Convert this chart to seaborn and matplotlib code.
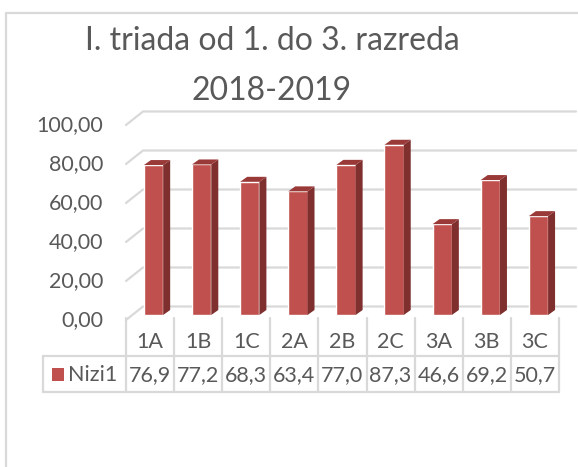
import pandas as pd
import matplotlib.pyplot as plt
import seaborn as sns
from matplotlib.patches import Polygon, Rectangle
from matplotlib.transforms import blended_transform_factory

# Data
classes = ["1A", "1B", "1C", "2A", "2B", "2C", "3A", "3B", "3C"]
values = [76.9, 77.2, 68.3, 63.4, 77.0, 87.3, 46.6, 69.2, 50.7]
series_name = "Nizi1"
title = "I. triada od 1. do 3. razreda\n2018-2019"
yticks = [0, 20, 40, 60, 80, 100]

face = "#C0504D"
side = "#7F2F2E"
top = "#9A3A38"
grid = "#D9D9D9"
txt = "#595959"

sns.set_style("white")
plt.rcParams["font.family"] = ["Lato", "DejaVu Sans"]

W, H = 578, 467
fig = plt.figure(figsize=(W / 100, H / 100), dpi=100)


def fy(px):
    return 1 - px / H


ax = fig.add_axes([126 / W, fy(315), 433 / W, 195 / H])
df = pd.DataFrame({"razred": classes, "nizi": values})
sns.barplot(data=df, x="razred", y="nizi", color=face, width=0.4,
            saturation=1, ax=ax, zorder=3)
ax.set_xlim(-0.5, 8.5)
ax.set_ylim(0, 100)
ax.set_axis_off()

# pixel -> data unit conversions
ux = 433 / 9
uy = 195 / 100
shift = 3.5 / ux
dx, dy = 7 / ux, 5 / uy

# 3d look for bars
for p in ax.patches:
    p.set_x(p.get_x() + shift)
    p.set_clip_on(False)
    x0, w, h = p.get_x(), p.get_width(), p.get_height()
    ax.add_patch(Polygon([(x0 + w, 0), (x0 + w + dx, dy), (x0 + w + dx, h + dy), (x0 + w, h)],
                         closed=True, fc=side, ec="none", zorder=3, clip_on=False))
    ax.add_patch(Polygon([(x0, h), (x0 + w, h), (x0 + w + dx, h + dy), (x0 + dx, h + dy)],
                         closed=True, fc=top, ec="none", zorder=3, clip_on=False))

# back wall gridlines
bx, by, fdown = 17 / ux, 8.5 / uy, 5 / uy
for v in yticks:
    ax.plot([-0.5, -0.5 + bx, 8.5 + bx], [v - fdown, v + by, v + by],
            color=grid, lw=1.6, zorder=0, clip_on=False)
    ax.text(-0.5 - 23 / ux, v - fdown, f"{v:.2f}".replace(".", ","),
            ha="right", va="center", fontsize=15.5, color=txt)

# data table
tr = blended_transform_factory(ax.transData, fig.transFigure)
xl = -0.5 - (126 - 43) / ux
for i in range(len(classes) + 1):
    ax.plot([i - 0.5, i - 0.5], [fy(318), fy(392)], color=grid, lw=1.6,
            transform=tr, clip_on=False)
ax.plot([xl, xl], [fy(356), fy(392)], color=grid, lw=1.6, transform=tr, clip_on=False)
for yy in [356, 392]:
    ax.plot([xl, 8.5], [fy(yy), fy(yy)], color=grid, lw=1.6, transform=tr, clip_on=False)
for i, (c, v) in enumerate(zip(classes, values)):
    ax.text(i, fy(342), c, transform=tr, ha="center", va="center", fontsize=15.5, color=txt)
    ax.text(i, fy(375), f"{v:.1f}".replace(".", ","), transform=tr,
            ha="center", va="center", fontsize=15.5, color=txt)
fig.patches.append(Rectangle((52 / W, fy(381)), 12 / W, 13 / H, transform=fig.transFigure,
                             fc=face, ec="none"))
fig.text(68 / W, fy(375), series_name, ha="left", va="center", fontsize=15.5, color=txt)

# title
fig.text(272 / W, fy(66), title, ha="center", va="center", fontsize=23,
         color=txt, linespacing=1.85)

# chart border
fig.patches.append(Rectangle((6 / W, -0.1), 1.0, fy(13) + 0.1, transform=fig.transFigure,
                             fc="none", ec=grid, lw=1.6))

plt.savefig("out.png", dpi=100)
